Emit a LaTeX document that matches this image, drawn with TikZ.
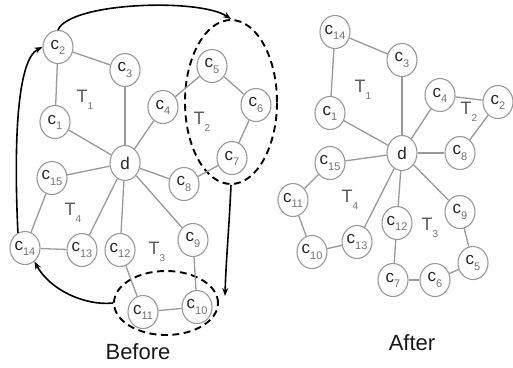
\documentclass[tikz,border=0pt]{standalone}
\usepackage{fontspec}
\setmainfont{Liberation Sans}
\usetikzlibrary{shapes.geometric,arrows.meta}
\newcommand{\cc}[1]{c\raisebox{-0.3em}{\fontsize{11}{11}\selectfont\color{black!55}#1}}
\newcommand{\tl}[1]{T\raisebox{-0.4em}{\fontsize{10}{10}\selectfont\color{black!55}#1}}
\tikzset{
  cn/.style={ellipse, draw=black!40, line width=1.1pt, minimum width=30pt, minimum height=33pt, inner sep=0pt, text=black!85, font=\fontsize{17}{17}\selectfont, fill=white},
  dn/.style={cn, minimum height=35pt},
  ed/.style={draw=black!40, line width=1.3pt},
  tlab/.style={text=black!65, font=\fontsize{18}{18}\selectfont},
  captext/.style={text=black!90, font=\fontsize{22}{22}\selectfont},
  grp/.style={ellipse, draw=black, line width=1.9pt, dash pattern=on 7pt off 4.5pt, inner sep=0pt},
  arr/.style={draw=black, line width=1.6pt, -{Stealth[length=8pt,width=6pt]}}
}
\begin{document}
\begin{tikzpicture}[x=1pt,y=-1pt]
\useasboundingbox (0,0) rectangle (513,367);
% groups (Before)
\node[grp, minimum width=92pt, minimum height=164pt] (G1) at (231,102) {};
\node[grp, minimum width=104pt, minimum height=64pt] (G2) at (166,303) {};
% Before
\node[dn] (bd) at (125,163) {d};
\node[cn] (b2) at (58,47) {\cc{2}};
\node[cn] (b3) at (125,70) {\cc{3}};
\node[cn] (b1) at (55,122) {\cc{1}};
\node[cn] (b4) at (163,107) {\cc{4}};
\node[cn] (b5) at (212,66) {\cc{5}};
\node[cn] (b6) at (256,105) {\cc{6}};
\node[cn] (b7) at (232,158) {\cc{7}};
\node[cn] (b8) at (184,184) {\cc{8}};
\node[cn] (b15) at (52,178) {\cc{15}};
\node[cn] (b14) at (25,248) {\cc{14}};
\node[cn] (b13) at (82,250) {\cc{13}};
\node[cn] (b12) at (120,250) {\cc{12}};
\node[cn] (b9) at (193,240) {\cc{9}};
\node[cn] (b11) at (143,312) {\cc{11}};
\node[cn] (b10) at (197,307) {\cc{10}};
\foreach \a/\b in {b2/b3,b2/b1,b1/bd,b3/bd,bd/b4,b4/b5,b5/b6,b6/b7,bd/b8,b8/b7,bd/b15,b15/b14,b14/b13,b13/bd,bd/b12,b12/b11,b11/b10,b10/b9,b9/bd}
  \draw[ed] (\a) -- (\b);
\node[tlab] (bT1) at (85,100) {\tl{1}};
\node[tlab] (bT2) at (202,122) {\tl{2}};
\node[tlab] (bT4) at (73,213) {\tl{4}};
\node[tlab] (bT3) at (157,252) {\tl{3}};
\node[captext] (before) at (138,352) {Before};
% arrows
\coordinate (t1) at (225,296);
\draw[arr] (b2.north) .. controls (70,2) and (200,-2) .. (G1.north);
\draw[arr] (G1.south) .. controls (229,230) and (226,260) .. (t1);
\draw[arr] (G2.west) .. controls (85,306) and (50,290) .. (b14.-55);
\draw[arr] (b14.115) .. controls (14,150) and (16,60) .. (b2.west);
% After
\node[dn] (ad) at (402,153) {d};
\node[cn] (a14) at (335,32) {\cc{14}};
\node[cn] (a3) at (402,60) {\cc{3}};
\node[cn] (a1) at (330,113) {\cc{1}};
\node[cn] (a4) at (440,95) {\cc{4}};
\node[cn] (a2) at (498,102) {\cc{2}};
\node[cn] (a8) at (460,153) {\cc{8}};
\node[cn] (a15) at (330,163) {\cc{15}};
\node[cn] (a11) at (293,200) {\cc{11}};
\node[cn] (a10) at (312,252) {\cc{10}};
\node[cn] (a13) at (357,242) {\cc{13}};
\node[cn] (a12) at (397,223) {\cc{12}};
\node[cn] (a9) at (460,212) {\cc{9}};
\node[cn] (a5) at (473,263) {\cc{5}};
\node[cn] (a6) at (435,280) {\cc{6}};
\node[cn] (a7) at (393,280) {\cc{7}};
\foreach \a/\b in {a14/a3,a14/a1,a1/ad,a3/ad,ad/a4,a4/a2,a2/a8,a8/ad,ad/a15,a15/a11,a11/a10,a10/a13,a13/ad,ad/a12,a12/a7,a7/a6,a6/a5,a5/a9,a9/ad}
  \draw[ed] (\a) -- (\b);
\node[tlab] (aT1) at (363,90) {\tl{1}};
\node[tlab] (aT2) at (469,112) {\tl{2}};
\node[tlab] (aT4) at (350,200) {\tl{4}};
\node[tlab] (aT3) at (430,228) {\tl{3}};
\node[captext] (after) at (412,343) {After};
\end{tikzpicture}
\end{document}
